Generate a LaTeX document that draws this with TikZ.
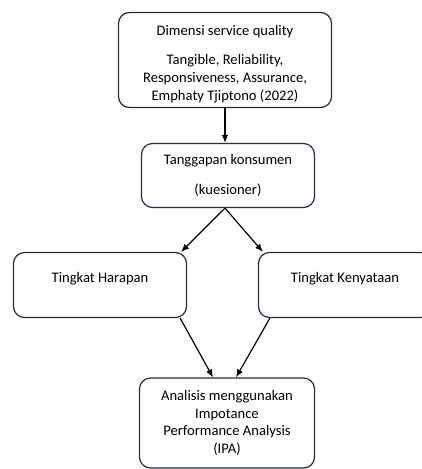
\documentclass[tikz,border=0pt]{standalone}
\usepackage{fontspec}
\setmainfont{Carlito}
\usepackage{tikz}
\usetikzlibrary{arrows.meta, positioning, calc}
\definecolor{boxline}{RGB}{34,46,66}

\begin{document}
\begin{tikzpicture}[
  x=1pt, y=-1pt,
  box/.style = {
    rectangle, draw=boxline, line width=1.2pt, fill=white, rounded corners=11pt,
    align=center, inner sep=0pt,
    font=\fontsize{14.6}{18}\selectfont
  },
  arrow/.style = {-{Latex[length=8pt, width=6.5pt]}, line width=1.2pt}
]
  \useasboundingbox (0,0) rectangle (422,469);
  \clip (0,0) rectangle (422,469);

  % Kotak utama
  \node[box, minimum width=213pt, minimum height=95pt] (dim) at (225,60)
    {\rule{0pt}{18pt}Dimensi service quality\\[11pt]Tangible, Reliability,\\Responsiveness, Assurance,\\Emphaty Tjiptono (2022)};
  \node[box, minimum width=173pt, minimum height=64pt] (tgp) at (228,175.5)
    {Tanggapan konsumen\\[12pt](kuesioner)};

  % Harapan dan kenyataan
  \node[box, minimum width=173pt, minimum height=65pt, text depth=15pt] (hrp) at (100,285)
    {Tingkat Harapan};
  \node[box, minimum width=173pt, minimum height=65pt, text depth=15pt] (kny) at (345,285)
    {Tingkat Kenyataan};

  % Analisis IPA
  \node[box, minimum width=175pt, minimum height=90pt, font=\fontsize{14.6}{17.5}\selectfont] (ipa) at (227,423)
    {Analisis menggunakan\\Impotance\\Performance Analysis\\(IPA)};

  % Panah
  \draw[arrow] (dim.south) -- (tgp.north -| dim.south);
  \draw[arrow] (tgp.south -| dim.south) -- ([xshift=-6pt]hrp.north east);
  \draw[arrow] (tgp.south -| dim.south) -- ([xshift=5pt]kny.north west);
  \draw[arrow] ([xshift=-7pt]hrp.south east) -- ([xshift=-14pt]ipa.north);
  \draw[arrow] ([xshift=12pt]kny.south west) -- ([xshift=9pt]ipa.north);

\end{tikzpicture}
\end{document}
